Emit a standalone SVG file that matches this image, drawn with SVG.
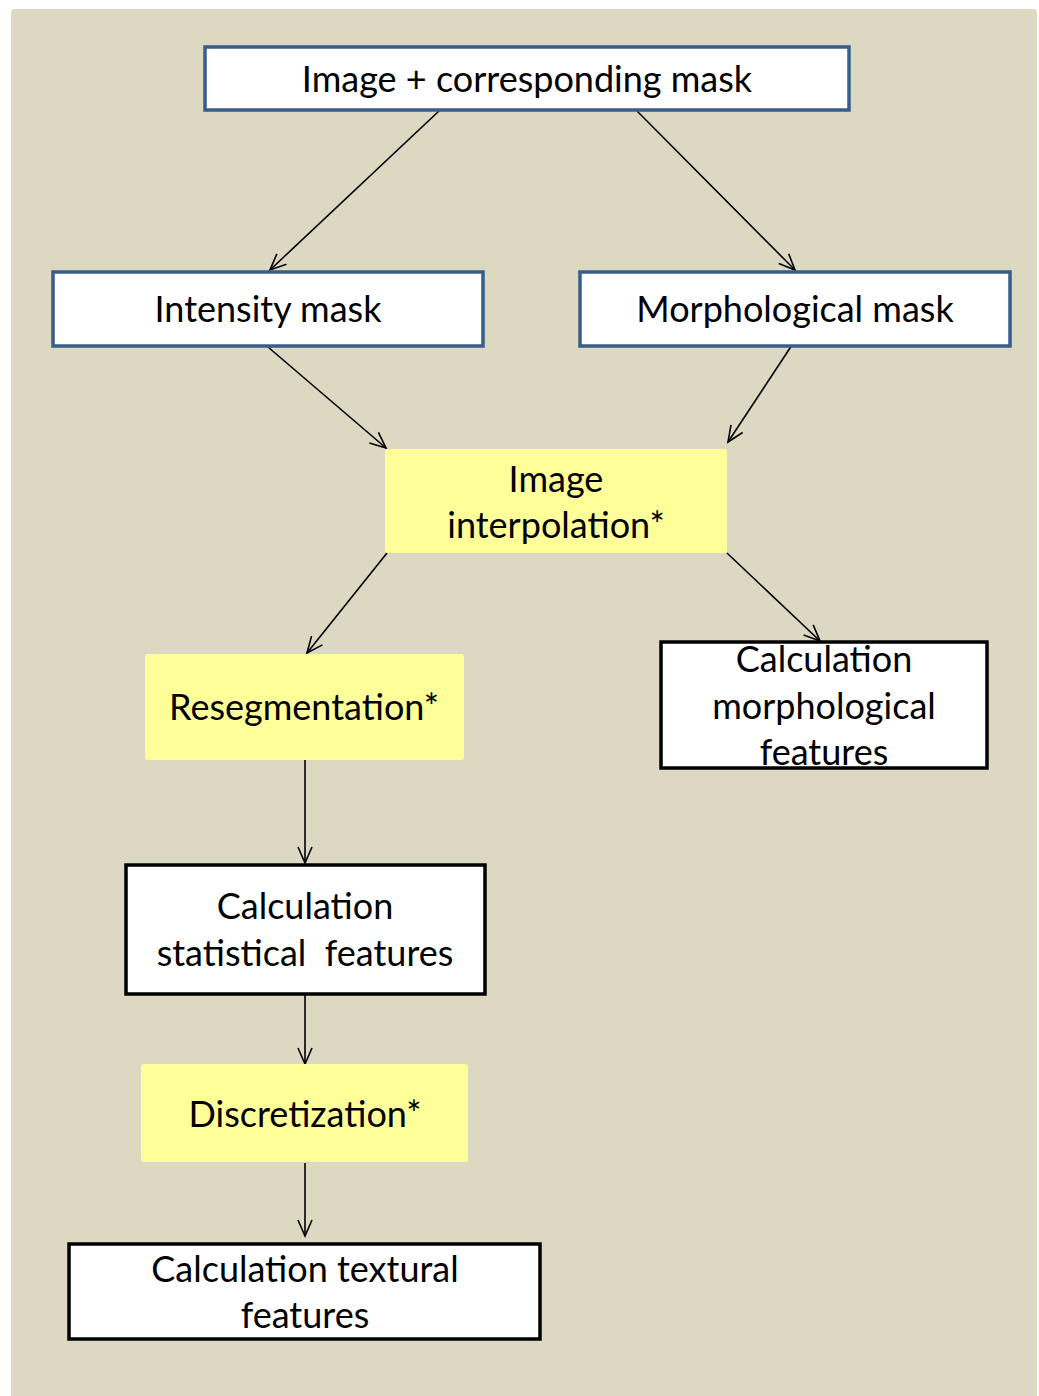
<svg xmlns="http://www.w3.org/2000/svg" width="1039" height="1396" viewBox="0 0 1039 1396">
<defs>
<style>
.t{font-family:Lato,"Open Sans","Liberation Sans",sans-serif;font-size:36px;fill:#000;text-anchor:middle}
.blue{fill:#fff;stroke:#385D8A;stroke-width:3.5}
.blk{fill:#fff;stroke:#000;stroke-width:3.5}
.yel{fill:#FFFF99;stroke:none}
.c{stroke:#000;stroke-width:1.6;fill:none;marker-end:url(#a)}
</style>
<marker id="a" viewBox="0 0 20 20" refX="18" refY="10" markerWidth="20" markerHeight="20" markerUnits="userSpaceOnUse" orient="auto">
<path d="M2,3 L18,10 L2,17" fill="none" stroke="#000" stroke-width="1.6"/>
</marker>
</defs>
<rect x="0" y="0" width="1039" height="1396" fill="#fff"/>
<rect x="11" y="9" width="1026" height="1400" rx="4" fill="#DDD8C2"/>
<g id="connectors">
<line class="c" x1="439" y1="111" x2="270" y2="270"/>
<line class="c" x1="637" y1="111" x2="795" y2="270"/>
<line class="c" x1="268" y1="347" x2="386" y2="448"/>
<line class="c" x1="794" y1="342" x2="728" y2="442"/>
<line class="c" x1="387" y1="553" x2="307" y2="653"/>
<line class="c" x1="727" y1="553" x2="820" y2="641"/>
<line class="c" x1="305" y1="760" x2="305" y2="863"/>
<line class="c" x1="305" y1="995" x2="305" y2="1064"/>
<line class="c" x1="305" y1="1163" x2="305" y2="1236"/>
</g>
<g id="n1"><rect class="blue" x="205" y="47" width="644" height="63"/><text class="t" x="527" y="92">Image + corresponding mask</text></g>
<g id="n2"><rect class="blue" x="53" y="272" width="430" height="74"/><text class="t" x="268" y="322">Intensity mask</text></g>
<g id="n3"><rect class="blue" x="580" y="272" width="430" height="74"/><text class="t" x="795" y="322">Morphological mask</text></g>
<g id="n4"><rect class="yel" x="385" y="449" width="342" height="104" rx="3"/><text class="t" x="556" y="492">Image</text><text class="t" x="556" y="538">interpolation*</text></g>
<g id="n5"><rect class="yel" x="145" y="654" width="319" height="106" rx="3"/><text class="t" x="304" y="720">Resegmentation*</text></g>
<g id="n6"><rect class="blk" x="661" y="642" width="326" height="126"/><text class="t" x="824" y="672">Calculation</text><text class="t" x="824" y="719">morphological</text><text class="t" x="824" y="765">features</text></g>
<g id="n7"><rect class="blk" x="126" y="865" width="359" height="129"/><text class="t" x="305" y="919">Calculation</text><text class="t" x="305" y="966">statistical&#160; features</text></g>
<g id="n8"><rect class="yel" x="141" y="1064" width="327" height="98" rx="3"/><text class="t" x="305" y="1127">Discretization*</text></g>
<g id="n9"><rect class="blk" x="69" y="1244" width="471" height="95"/><text class="t" x="305" y="1282">Calculation textural</text><text class="t" x="305" y="1328">features</text></g>
</svg>
